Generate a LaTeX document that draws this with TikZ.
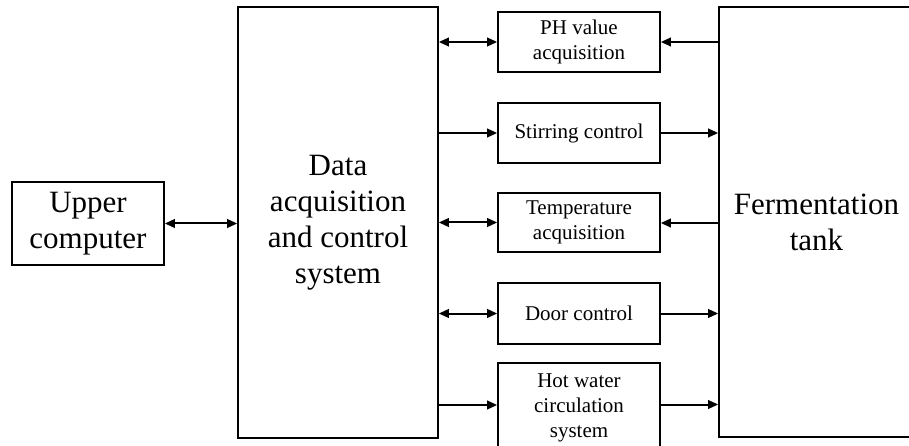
\documentclass[tikz,border=0pt]{standalone}
\usepackage{fontspec}
\setmainfont{Liberation Serif}
\usetikzlibrary{arrows.meta,calc}
\tikzset{
  blk/.style={draw=black, line width=1.6pt, inner sep=0pt, align=center, anchor=center},
  bigtxt/.style={font=\fontsize{31}{36}\selectfont},
  smalltxt/.style={font=\fontsize{21}{25}\selectfont},
  conn/.style={line width=2pt, draw=black},
  >={Triangle[length=10pt,width=8.5pt]}
}
\begin{document}
\begin{tikzpicture}[x=1pt,y=-1pt]
\useasboundingbox (0,0) rectangle (909,446);
% main blocks
\node[blk,bigtxt,minimum width=152pt,minimum height=83pt] (up) at (88,223.5) {Upper\\computer};
\node[blk,bigtxt,minimum width=200pt,minimum height=431pt] (data) at (338,222.5) {Data\\acquisition\\and control\\system};
\node[blk,bigtxt,minimum width=195pt,minimum height=430pt] (ferm) at (816.5,222) {Fermentation\\tank};
\node[blk,smalltxt,minimum width=162pt,minimum height=60pt] (ph) at (579,42) {PH value\\acquisition};
\node[blk,smalltxt,minimum width=162pt,minimum height=60pt] (st) at (579,133) {Stirring control};
\node[blk,smalltxt,minimum width=162pt,minimum height=59pt] (tp) at (579,222.5) {Temperature\\acquisition};
\node[blk,smalltxt,minimum width=162pt,minimum height=61pt] (dr) at (579,313.5) {Door control};
\node[blk,smalltxt,minimum width=162pt,minimum height=89pt] (hw) at (579,407.5) {Hot water\\circulation\\system};
% connectors
\draw[conn,<->] (up.east) -- (up.east -| data.west);
\draw[conn,<->] (ph.west -| data.east) -- (ph.west);
\draw[conn,->] (ph.east -| ferm.west) -- (ph.east);
\draw[conn,->] (st.west -| data.east) -- (st.west);
\draw[conn,->] (st.east) -- (st.east -| ferm.west);
\draw[conn,<->] (tp.west -| data.east) -- (tp.west);
\draw[conn,->] ([yshift=-0.5pt]tp.east -| ferm.west) -- ([yshift=-0.5pt]tp.east);
\draw[conn,<->] (dr.west -| data.east) -- (dr.west);
\draw[conn,->] (dr.east) -- (dr.east -| ferm.west);
\draw[conn,->] ([yshift=2.5pt]hw.west -| data.east) -- ([yshift=2.5pt]hw.west);
\draw[conn,->] ([yshift=3pt]hw.east) -- ([yshift=3pt]hw.east -| ferm.west);
\end{tikzpicture}
\end{document}
